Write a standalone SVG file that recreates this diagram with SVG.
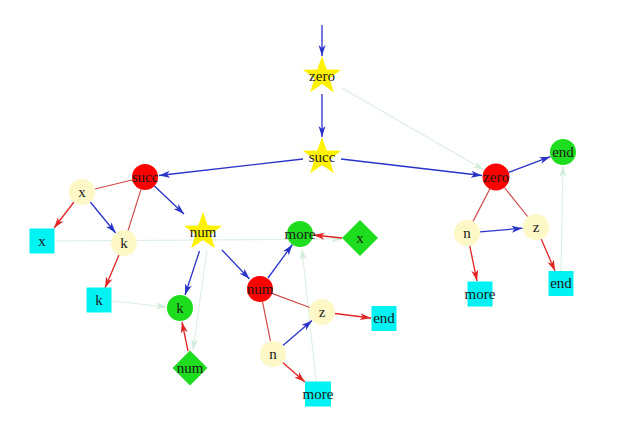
<svg xmlns="http://www.w3.org/2000/svg" xmlns:xlink="http://www.w3.org/1999/xlink" width="640" height="433" viewBox="0 0 640 433">
<style>
text{font-family:"Liberation Serif","DejaVu Serif",serif;font-size:15px;text-anchor:middle;fill:#1a1a1a}
.b{stroke:#2a33c8;stroke-width:1.3;fill:none;marker-end:url(#ab)}
.r{stroke:#e02424;stroke-width:1.3;fill:none;marker-end:url(#ar)}
.rl{stroke:#d04a4a;stroke-width:1.2;fill:none}
.g{stroke:#dcefe2;stroke-width:1.1;fill:none;marker-end:url(#ag)}
.star{fill:#fff200}
.red{fill:#ff0000}
.grn{fill:#1edc1e}
.pale{fill:#fdf8c6}
.cyan{fill:#00f2f2}
</style>
<defs>
<marker id="ab" markerUnits="userSpaceOnUse" markerWidth="12" markerHeight="8" refX="11" refY="4" orient="auto"><path d="M0,0.5 L11,4 L0,7.5 L3,4 Z" fill="#2a33c8"/></marker>
<marker id="ar" markerUnits="userSpaceOnUse" markerWidth="12" markerHeight="8" refX="11" refY="4" orient="auto"><path d="M0,0.5 L11,4 L0,7.5 L3,4 Z" fill="#e02424"/></marker>
<marker id="ag" markerUnits="userSpaceOnUse" markerWidth="12" markerHeight="8" refX="11" refY="4" orient="auto"><path d="M0,0.5 L11,4 L0,7.5 L3,4 Z" fill="#d2ecda"/></marker>
<polygon id="st" points="0,-20 4.7,-6.47 19.02,-6.18 7.61,2.47 11.76,16.18 0,8 -11.76,16.18 -7.61,2.47 -19.02,-6.18 -4.7,-6.47"/>
</defs>
<g id="connectors">
<line class="g" x1="342" y1="88" x2="484" y2="170"/>
<line class="g" x1="561" y1="271" x2="563" y2="166"/>
<line class="g" x1="112" y1="301" x2="167" y2="307"/>
<line class="g" x1="55" y1="241" x2="342" y2="239"/>
<line class="g" x1="207" y1="250" x2="193" y2="350"/>
<line class="g" x1="316" y1="381" x2="302" y2="249"/>
<line class="b" x1="322" y1="25" x2="322" y2="56"/>
<line class="b" x1="322" y1="94" x2="322" y2="137"/>
<line class="b" x1="303" y1="159" x2="159" y2="175.5"/>
<line class="b" x1="341" y1="159" x2="482" y2="175.5"/>
<line class="b" x1="508.6" y1="172.3" x2="550.4" y2="156.7"/>
<line class="rl" x1="489.8" y1="189" x2="473" y2="221.4"/>
<line class="rl" x1="504.4" y1="187.5" x2="527.6" y2="216.5"/>
<line class="b" x1="480" y1="231.9" x2="522.5" y2="228.2"/>
<line class="r" x1="469.7" y1="245.7" x2="477" y2="281"/>
<line class="r" x1="541.2" y1="239" x2="555" y2="271"/>
<line class="rl" x1="132" y1="180" x2="95" y2="189"/>
<line class="rl" x1="141" y1="189.4" x2="128" y2="230.6"/>
<line class="b" x1="154.4" y1="186" x2="184" y2="214"/>
<line class="r" x1="74" y1="202" x2="54" y2="228"/>
<line class="b" x1="90.3" y1="202" x2="115.7" y2="233"/>
<line class="r" x1="119" y1="255" x2="105" y2="288"/>
<line class="b" x1="199.5" y1="251" x2="185" y2="295"/>
<line class="b" x1="222" y1="250" x2="249.5" y2="279"/>
<line class="r" x1="188" y1="351" x2="182" y2="322"/>
<line class="b" x1="268" y1="278" x2="292.4" y2="244.5"/>
<line class="rl" x1="272.6" y1="293.6" x2="309.8" y2="307.5"/>
<line class="rl" x1="262.5" y1="301.7" x2="270.5" y2="341.3"/>
<line class="b" x1="282.9" y1="345.5" x2="312.1" y2="320.5"/>
<line class="r" x1="282.7" y1="362.6" x2="305" y2="382"/>
<line class="r" x1="335" y1="313.5" x2="371" y2="318"/>
<line class="r" x1="342" y1="238" x2="313.5" y2="235"/>
</g>
<g id="n_zero_star"><use xlink:href="#st" class="star" transform="translate(322,76)"/><text x="322" y="81">zero</text></g>
<g id="n_succ_star"><use xlink:href="#st" class="star" transform="translate(322,157)"/><text x="322" y="162">succ</text></g>
<g id="n_num_star"><use xlink:href="#st" class="star" transform="translate(203,232)"/><text x="203" y="237">num</text></g>
<g id="n_succ"><circle class="red" cx="145" cy="177" r="13"/><text x="145" y="182">succ</text></g>
<g id="n_zero"><circle class="red" cx="496" cy="177" r="13.5"/><text x="496" y="182">zero</text></g>
<g id="n_num"><circle class="red" cx="260" cy="289" r="13"/><text x="260" y="294">num</text></g>
<g id="n_end_g"><circle class="grn" cx="563" cy="152" r="13"/><text x="563" y="157">end</text></g>
<g id="n_more_g"><circle class="grn" cx="300" cy="234" r="13"/><text x="300" y="239">more</text></g>
<g id="n_k_g"><circle class="grn" cx="180" cy="308" r="13"/><text x="180" y="313">k</text></g>
<g id="n_x_p"><circle class="pale" cx="82" cy="192" r="13"/><text x="82" y="197">x</text></g>
<g id="n_k_p"><circle class="pale" cx="124" cy="243" r="13"/><text x="124" y="248">k</text></g>
<g id="n_n_p1"><circle class="pale" cx="467" cy="233" r="13"/><text x="467" y="238">n</text></g>
<g id="n_z_p1"><circle class="pale" cx="536" cy="227" r="13"/><text x="536" y="232">z</text></g>
<g id="n_z_p2"><circle class="pale" cx="322" cy="312" r="13"/><text x="322" y="317">z</text></g>
<g id="n_n_p2"><circle class="pale" cx="273" cy="354" r="13"/><text x="273" y="359">n</text></g>
<g id="n_x_sq"><rect class="cyan" x="29.5" y="228.5" width="25" height="25"/><text x="42" y="246">x</text></g>
<g id="n_k_sq"><rect class="cyan" x="86.5" y="287.5" width="25" height="25"/><text x="99" y="305">k</text></g>
<g id="n_more_sq1"><rect class="cyan" x="467.5" y="281.5" width="25" height="25"/><text x="480" y="299">more</text></g>
<g id="n_end_sq1"><rect class="cyan" x="548.5" y="271" width="25" height="25"/><text x="561" y="288">end</text></g>
<g id="n_end_sq2"><rect class="cyan" x="371.5" y="306" width="25" height="25"/><text x="384" y="323">end</text></g>
<g id="n_more_sq2"><rect class="cyan" x="305" y="381.5" width="26" height="25"/><text x="318" y="399">more</text></g>
<g id="n_x_dia"><polygon class="grn" points="360,220 378,238 360,256 342,238"/><text x="360" y="243">x</text></g>
<g id="n_num_dia"><polygon class="grn" points="190,350.5 207.5,368 190,385.5 172.5,368"/><text x="190" y="373">num</text></g>
</svg>
